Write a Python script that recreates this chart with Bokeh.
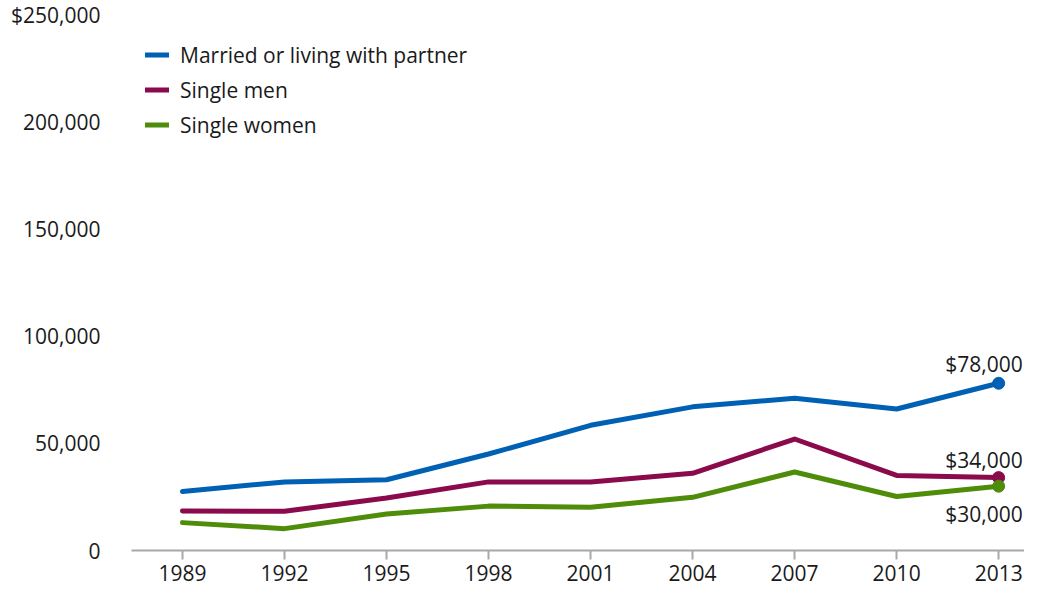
from bokeh.plotting import figure
from bokeh.models import ColumnDataSource, FixedTicker, Legend, LegendItem, Range1d, LabelSet
from bokeh.core.properties import value
from bokeh.embed import file_html
from bokeh.resources import INLINE

years = [1989, 1992, 1995, 1998, 2001, 2004, 2007, 2010, 2013]
married = [27500, 32000, 33000, 45000, 58400, 67000, 71000, 66000, 78000]
single_men = [18400, 18300, 24500, 32000, 32000, 36000, 52000, 35000, 34000]
single_women = [13000, 10200, 17000, 20700, 20200, 24800, 36600, 25200, 30000]
series_names = ["Married or living with partner", "Single men", "Single women"]
colors = ["#0060B4", "#8A0A4C", "#4E8C0A"]
end_labels = ["$78,000", "$34,000", "$30,000"]
y_ticks = [0, 50000, 100000, 150000, 200000, 250000]
y_tick_labels = ["0", "50,000", "100,000", "150,000", "200,000", "$250,000"]

FONT = "Open Sans"
TXT = "#1a1a1a"

p = figure(frame_width=893, frame_height=536, output_backend="svg", toolbar_location=None,
           x_range=Range1d(1987.5, 2013.76), y_range=Range1d(0, 250000),
           min_border_left=131, min_border_right=0, min_border_top=14, min_border_bottom=40)
p.outline_line_color = None
p.xgrid.visible = False
p.ygrid.visible = False

items = []
for vals, name, col in zip([married, single_men, single_women], series_names, colors):
    src = ColumnDataSource(dict(x=years, y=vals))
    r = p.line("x", "y", source=src, line_color=col, line_width=5, line_cap="round", line_join="round")
    items.append(LegendItem(label=name, renderers=[r]))

ends = [married[-1], single_men[-1], single_women[-1]]
end_src = ColumnDataSource(dict(x=[years[-1]] * 3, y=ends, c=colors, t=end_labels,
                                off=[19, 18, -28]))
p.scatter("x", "y", source=end_src, size=12, fill_color="c", line_color="c")
labels = LabelSet(x="x", y="y", text="t", source=end_src, y_offset="off", x_offset=24,
                  text_align="right", text_baseline="middle", text_font=value(FONT),
                  text_font_size="21px", text_color=TXT)
p.add_layout(labels)

legend = Legend(items=items, location=(14, 408), margin=0, padding=0, spacing=0,
                glyph_width=24, glyph_height=35, label_height=35, label_standoff=11,
                label_text_font=FONT, label_text_font_size="21px", label_text_color=TXT,
                border_line_color=None, background_fill_alpha=0)
p.add_layout(legend)

p.xaxis.ticker = FixedTicker(ticks=years)
p.xaxis.axis_line_color = "#A8A8A8"
p.xaxis.axis_line_width = 2
p.xaxis.major_tick_line_color = "#A8A8A8"
p.xaxis.major_tick_line_width = 2
p.xaxis.major_tick_out = 9
p.xaxis.major_tick_in = 0
p.xaxis.minor_tick_line_color = None
p.xaxis.major_label_standoff = 5
p.xaxis.major_label_text_font = FONT
p.xaxis.major_label_text_font_size = "21px"
p.xaxis.major_label_text_color = TXT

p.yaxis.ticker = FixedTicker(ticks=y_ticks)
p.yaxis.major_label_overrides = {t: l for t, l in zip(y_ticks, y_tick_labels)}
p.yaxis.axis_line_color = None
p.yaxis.major_tick_line_color = None
p.yaxis.minor_tick_line_color = None
p.yaxis.major_label_standoff = 25
p.yaxis.major_label_text_font = FONT
p.yaxis.major_label_text_font_size = "21px"
p.yaxis.major_label_text_color = TXT

open("out.html", "w").write(file_html(p, INLINE))
